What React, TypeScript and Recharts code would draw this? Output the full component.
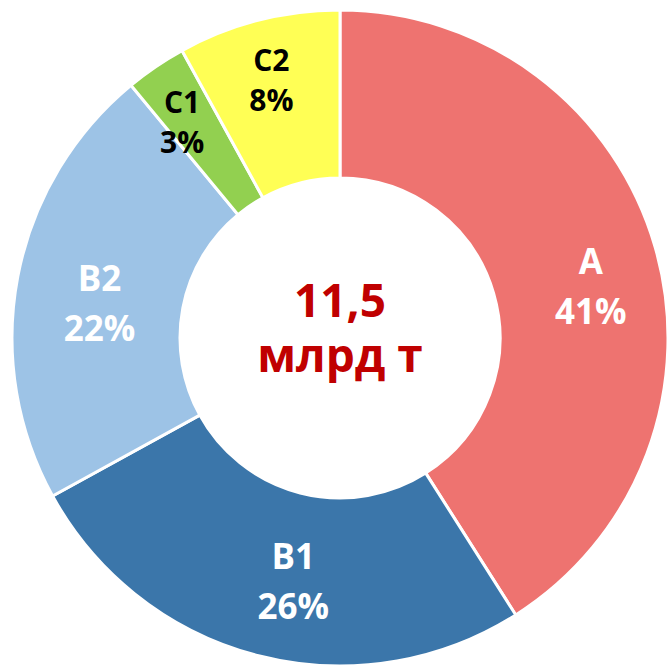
import React from "react";
import { PieChart, Pie, Cell, Label } from "recharts";

const categories = ["A", "B1", "B2", "C1", "C2"];
const shares = [41, 26, 22, 3, 8];
const centerLines = ["11,5", "млрд т"];

const SLICE_COLORS = ["#EE7370", "#3B76AA", "#9DC3E6", "#92D050", "#FFFF55"];
const LABEL_COLORS = ["#FFFFFF", "#FFFFFF", "#FFFFFF", "#000000", "#000000"];
const LABEL_SIZES = [35, 35, 35, 30, 30];
// small manual nudges of the data labels (style only)
const LABEL_NUDGE_X = [5, 17, 11, -14, -5];
const LABEL_NUDGE_Y = [19, -5, 13, -3, -9];

const data = categories.map((name, i) => ({ name, value: shares[i] }));

const RAD = Math.PI / 180;
const FONT = "'Open Sans', 'Noto Sans', sans-serif";
const CX = 340;
const CY = 338;

const renderLabel = (props: any) => {
  const { cx, cy, midAngle, index } = props;
  const r = 256;
  const x = cx + r * Math.cos(-midAngle * RAD) + LABEL_NUDGE_X[index];
  const y = cy + r * Math.sin(-midAngle * RAD) + LABEL_NUDGE_Y[index];
  const fs = LABEL_SIZES[index];
  const big = fs > 32;
  return (
    <text
      x={x}
      y={y}
      textAnchor="middle"
      fill={LABEL_COLORS[index]}
      fontFamily={FONT}
      fontWeight={700}
      fontSize={fs}
    >
      <tspan x={x} y={y + (big ? -12 : -10)}>{data[index].name}</tspan>
      <tspan x={x} y={y + (big ? 38 : 30)}>{`${data[index].value}%`}</tspan>
    </text>
  );
};

const CenterText = () => (
  <text textAnchor="middle" fill="#C00000" fontFamily={FONT} fontWeight={700} fontSize={46}>
    <tspan x={CX} y={CY - 21}>{centerLines[0]}</tspan>
    <tspan x={CX} y={CY + 34}>{centerLines[1]}</tspan>
  </text>
);

export default function App() {
  return (
    <div style={{ width: 668, height: 668 }}>
      <style>{"body{margin:0;overflow:hidden;}"}</style>
      <PieChart width={668} height={668} margin={{ top: 0, right: 0, bottom: 0, left: 0 }}>
        <Pie
          data={data}
          dataKey="value"
          nameKey="name"
          cx={CX}
          cy={CY}
          innerRadius={160}
          outerRadius={328}
          startAngle={90}
          endAngle={-270}
          stroke="#FFFFFF"
          strokeWidth={3}
          label={renderLabel}
          labelLine={false}
          isAnimationActive={false}
        >
          {data.map((d, i) => (
            <Cell key={d.name} fill={SLICE_COLORS[i]} />
          ))}
          <Label position="center" content={<CenterText />} />
        </Pie>
      </PieChart>
    </div>
  );
}
